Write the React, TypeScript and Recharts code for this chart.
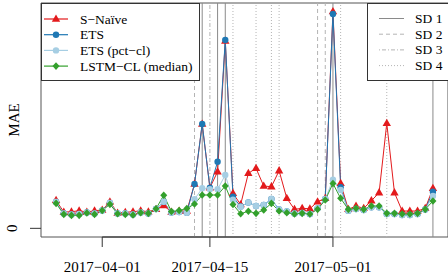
import React from 'react';
import { LineChart, Line, XAxis, YAxis, ReferenceLine, ReferenceArea } from 'recharts';

// daily test window
const dates = [
  '2017-03-26', '2017-03-27', '2017-03-28', '2017-03-29', '2017-03-30', '2017-03-31',
  '2017-04-01', '2017-04-02', '2017-04-03', '2017-04-04', '2017-04-05', '2017-04-06',
  '2017-04-07', '2017-04-08', '2017-04-09', '2017-04-10', '2017-04-11', '2017-04-12',
  '2017-04-13', '2017-04-14', '2017-04-15', '2017-04-16', '2017-04-17', '2017-04-18',
  '2017-04-19', '2017-04-20', '2017-04-21', '2017-04-22', '2017-04-23', '2017-04-24',
  '2017-04-25', '2017-04-26', '2017-04-27', '2017-04-28', '2017-04-29', '2017-04-30',
  '2017-05-01', '2017-05-02', '2017-05-03', '2017-05-04', '2017-05-05', '2017-05-06',
  '2017-05-07', '2017-05-08', '2017-05-09', '2017-05-10', '2017-05-11', '2017-05-12',
  '2017-05-13', '2017-05-14',
];

const sNaive = [
  2.80, 1.63, 1.66, 1.76, 1.63, 1.76, 1.83, 2.66, 1.53, 1.60,
  1.66, 1.76, 1.66, 1.90, 2.28, 1.63, 1.73, 1.73, 4.43, 10.43,
  4.06, 5.66, 18.73, 3.50, 2.38, 5.50, 6.00, 4.23, 4.16, 5.76,
  3.00, 1.90, 2.00, 1.96, 2.66, 3.00, 21.66, 4.50, 1.90, 2.23,
  2.00, 2.76, 3.56, 10.50, 3.56, 1.73, 1.73, 1.73, 2.00, 4.00,
];

const ets = [
  2.63, 1.48, 1.38, 1.43, 1.58, 1.48, 1.78, 2.53, 1.48, 1.48,
  1.38, 1.58, 1.48, 1.93, 2.66, 1.58, 1.63, 1.56, 4.43, 10.43,
  4.06, 6.66, 18.83, 3.16, 2.18, 2.58, 2.23, 2.33, 2.93, 1.88,
  1.68, 1.48, 1.53, 1.43, 2.00, 2.93, 21.43, 4.10, 1.76, 1.93,
  1.83, 2.10, 2.10, 1.43, 1.43, 1.33, 1.33, 1.43, 1.88, 3.66,
];

const etsPctCl = [
  2.63, 1.48, 1.38, 1.43, 1.58, 1.48, 1.78, 2.53, 1.48, 1.48,
  1.38, 1.58, 1.48, 1.93, 2.66, 1.58, 1.63, 1.56, 2.90, 4.00,
  3.90, 3.90, 5.33, 2.86, 2.16, 2.58, 2.23, 2.33, 2.93, 1.88,
  1.68, 1.48, 1.53, 1.43, 2.00, 2.93, 4.86, 3.83, 1.76, 1.93,
  1.83, 2.10, 2.10, 1.43, 1.43, 1.33, 1.33, 1.43, 1.88, 3.23,
];

const lstmCl = [
  2.50, 1.40, 1.30, 1.30, 1.53, 1.40, 1.78, 2.40, 1.46, 1.40,
  1.33, 1.56, 1.50, 1.96, 3.31, 1.68, 1.78, 1.98, 2.43, 3.33,
  3.33, 3.33, 4.23, 2.38, 1.46, 1.71, 1.50, 1.83, 2.50, 1.73,
  1.56, 1.43, 1.50, 1.43, 1.90, 2.83, 4.48, 3.00, 1.90, 2.00,
  1.90, 2.23, 2.23, 1.50, 1.50, 1.43, 1.43, 1.50, 1.90, 2.73,
];

const tickDates = ['2017-04-01', '2017-04-15', '2017-05-01'];
const tickLabels = ['2017\u221204\u221201', '2017\u221204\u221215', '2017\u221205\u221201'];

// special days, by category
const sd1Dates = ['2017-04-14', '2017-04-16', '2017-04-17', '2017-05-01', '2017-05-14'];
const sd2Dates = ['2017-04-13', '2017-04-29', '2017-04-30'];
const sd3Dates = ['2017-04-15'];
const sd4Dates = ['2017-04-18', '2017-04-21', '2017-04-23', '2017-04-24', '2017-05-02', '2017-05-08'];

const seriesNames = ['S\u2212Na\u00efve', 'ETS', 'ETS (pct\u2212cl)', 'LSTM\u2212CL (median)'];
const sdNames = ['SD 1', 'SD 2', 'SD 3', 'SD 4'];

const RED = '#E31A1C';
const BLUE = '#1F78B4';
const LIGHT = '#A6CEE3';
const GREEN = '#33A02C';
const FONT = 'Liberation Serif, Times New Roman, Times, serif';

const SD_STYLES = [
  { stroke: '#8a8a8a', dash: undefined },
  { stroke: '#b4b4b4', dash: '4 3' },
  { stroke: '#b4b4b4', dash: '1 2 4 2' },
  { stroke: '#b4b4b4', dash: '1 2' },
];

const dayIndex = (d: string) => Math.round((Date.parse(d) - Date.parse(dates[0])) / 86400000);

const data = dates.map((d, i) => ({
  x: dayIndex(d),
  sNaive: sNaive[i],
  ets: ets[i],
  etsPctCl: etsPctCl[i],
  lstmCl: lstmCl[i],
}));

// R-style 4% padding on both axes
const xMin = 0;
const xMax = dates.length - 1;
const xPad = (xMax - xMin) * 0.04;
const yMax = Math.max(...sNaive, ...ets, ...etsPctCl, ...lstmCl);
const yPad = yMax * 0.04;
const xDomain = [xMin - xPad, xMax + xPad];
const yDomain = [-yPad, yMax + yPad];

const triangle = (color: string) => (props: any) => {
  const { cx, cy, index } = props;
  if (cx == null || cy == null) return <g key={`t${index}`} />;
  return (
    <path
      key={`t${index}`}
      d={`M${cx},${cy - 4.6} L${cx + 4.2},${cy + 2.7} L${cx - 4.2},${cy + 2.7} Z`}
      fill={color}
    />
  );
};

const circle = (color: string) => (props: any) => {
  const { cx, cy, index } = props;
  if (cx == null || cy == null) return <g key={`c${index}`} />;
  return <circle key={`c${index}`} cx={cx} cy={cy} r={3.2} fill={color} />;
};

const diamond = (color: string) => (props: any) => {
  const { cx, cy, index } = props;
  if (cx == null || cy == null) return <g key={`d${index}`} />;
  return (
    <path
      key={`d${index}`}
      d={`M${cx},${cy - 3.8} L${cx + 3.5},${cy} L${cx},${cy + 3.8} L${cx - 3.5},${cy} Z`}
      fill={color}
    />
  );
};

const seriesColors = [RED, BLUE, LIGHT, GREEN];

const LegendMarker = ({ i, x, y }: { i: number; x: number; y: number }) => {
  const c = seriesColors[i];
  if (i === 0) return <path d={`M${x},${y - 4.6} L${x + 4.2},${y + 2.7} L${x - 4.2},${y + 2.7} Z`} fill={c} />;
  if (i === 3) return <path d={`M${x},${y - 3.8} L${x + 3.5},${y} L${x},${y + 3.8} L${x - 3.5},${y} Z`} fill={c} />;
  return <circle cx={x} cy={y} r={3.2} fill={c} />;
};

const YTick = (props: any) => {
  const { y } = props;
  return (
    <text
      x={12}
      y={y}
      transform={`rotate(-90 12 ${y})`}
      textAnchor="middle"
      dominantBaseline="central"
      fontSize={15}
      fontFamily={FONT}
      fill="#000"
    >
      0
    </text>
  );
};

const XTick = (props: any) => {
  const { x, payload } = props;
  const i = tickDates.map(dayIndex).indexOf(payload.value);
  return (
    <text x={x} y={272} textAnchor="middle" fontSize={15} fontFamily={FONT} fill="#000">
      {tickLabels[i]}
    </text>
  );
};

const App: React.FC = () => {
  const sdGroups = [sd1Dates, sd2Dates, sd3Dates, sd4Dates];
  return (
    <div style={{ position: 'relative', width: 448, height: 275, background: '#fff', fontFamily: FONT }}>
      <style>{'body{margin:0}'}</style>
      <LineChart width={448} height={275} data={data} margin={{ top: 3, right: 0, bottom: 0, left: 0 }}>
        <XAxis
          dataKey="x"
          type="number"
          domain={xDomain}
          ticks={tickDates.map(dayIndex)}
          height={38}
          axisLine={false}
          tickSize={10}
          tickLine={{ stroke: '#333' }}
          tick={<XTick />}
          allowDataOverflow
        />
        <YAxis
          type="number"
          domain={yDomain}
          ticks={[0]}
          width={41}
          axisLine={false}
          tickSize={11}
          tickLine={{ stroke: '#333' }}
          tick={<YTick />}
          allowDataOverflow
          label={{
            content: (p: any) => {
              const vb = p.viewBox || { x: 0, y: 3, height: 234 };
              const cy = vb.y + vb.height / 2;
              return (
                <text
                  x={14}
                  y={cy}
                  transform={`rotate(-90 14 ${cy})`}
                  textAnchor="middle"
                  dominantBaseline="central"
                  fontSize={15}
                  fontFamily={FONT}
                  fill="#000"
                >
                  MAE
                </text>
              );
            },
          }}
        />
        {sdGroups.map((group, g) =>
          group.map((d) => (
            <ReferenceLine
              key={`${g}-${d}`}
              x={dayIndex(d)}
              stroke={SD_STYLES[g].stroke}
              strokeDasharray={SD_STYLES[g].dash}
              strokeWidth={1}
            />
          ))
        )}
        <ReferenceArea
          x1={xDomain[0]}
          x2={xDomain[1]}
          y1={yDomain[0]}
          y2={yDomain[1]}
          fill="none"
          stroke="#555"
          strokeWidth={1}
        />
        <ReferenceLine
          segment={[
            { x: dayIndex(tickDates[0]), y: yDomain[0] },
            { x: dayIndex(tickDates[tickDates.length - 1]), y: yDomain[0] },
          ]}
          stroke="#222"
          strokeWidth={1.2}
        />
        <Line dataKey="sNaive" stroke={RED} strokeWidth={1} dot={triangle(RED)} isAnimationActive={false} />
        <Line dataKey="ets" stroke={BLUE} strokeWidth={1} dot={circle(BLUE)} isAnimationActive={false} />
        <Line dataKey="etsPctCl" stroke={LIGHT} strokeWidth={1} dot={circle(LIGHT)} isAnimationActive={false} />
        <Line dataKey="lstmCl" stroke={GREEN} strokeWidth={1} dot={diamond(GREEN)} isAnimationActive={false} />
      </LineChart>

      {/* method legend */}
      <svg width={160} height={79} style={{ position: 'absolute', left: 41, top: 3 }}>
        <rect x={0.5} y={0.5} width={158} height={77} fill="#fff" stroke="#333" />
        {seriesNames.map((name, i) => {
          const y = 16 + i * 15.7;
          return (
            <g key={name}>
              <line x1={3} x2={27} y1={y} y2={y} stroke={seriesColors[i]} strokeWidth={1.2} />
              <LegendMarker i={i} x={15} y={y} />
              <text x={39} y={y} dominantBaseline="central" fontSize={13.5} fontFamily={FONT} fill="#000">
                {name}
              </text>
            </g>
          );
        })}
      </svg>

      {/* special-day legend */}
      <svg width={81} height={79} style={{ position: 'absolute', left: 367, top: 3 }}>
        <rect x={0.5} y={0.5} width={90} height={77} fill="#fff" stroke="#333" />
        {sdNames.map((name, i) => {
          const y = 15.5 + i * 15.7;
          return (
            <g key={name}>
              <line
                x1={12}
                x2={37}
                y1={y}
                y2={y}
                stroke={SD_STYLES[i].stroke}
                strokeDasharray={SD_STYLES[i].dash}
                strokeWidth={1}
              />
              <text x={48} y={y} dominantBaseline="central" fontSize={13.5} fontFamily={FONT} fill="#000">
                {name}
              </text>
            </g>
          );
        })}
      </svg>
    </div>
  );
};

export default App;
